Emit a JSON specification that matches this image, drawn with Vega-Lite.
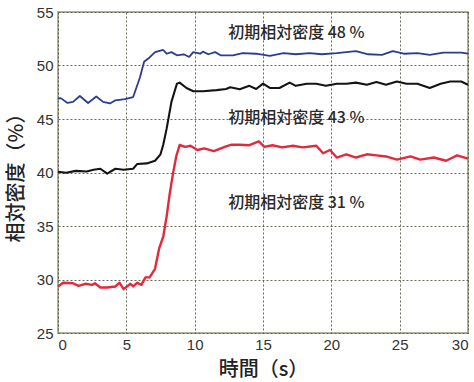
{
  "$schema": "https://vega.github.io/schema/vega-lite/v6.json",
  "width": 410,
  "height": 321,
  "autosize": {"type": "none"},
  "padding": {"left": 58, "top": 12, "right": 6, "bottom": 49},
  "background": "#ffffff",
  "config": {
    "view": {"stroke": "#8f9a70", "strokeWidth": 1.5},
    "axis": {
      "domain": false,
      "ticks": false,
      "grid": true,
      "gridColor": "#5a5a48",
      "gridDash": [2, 2],
      "gridWidth": 1,
      "gridOpacity": 0.9,
      "labelFont": "Liberation Sans Narrow, Liberation Sans, Arial",
      "labelFontSize": 15,
      "labelColor": "#333333",
      "titleFont": "Noto Sans CJK JP",
      "titleFontSize": 20,
      "titleFontWeight": 500,
      "titleColor": "#222222"
    }
  },
  "datasets": {
    "curves": [
      {"t": 0.0, "rho": 46.9, "s": "48"},
      {"t": 0.2, "rho": 46.95, "s": "48"},
      {"t": 0.7, "rho": 46.5, "s": "48"},
      {"t": 1.1, "rho": 46.6, "s": "48"},
      {"t": 1.6, "rho": 47.15, "s": "48"},
      {"t": 2.2, "rho": 46.5, "s": "48"},
      {"t": 2.8, "rho": 47.1, "s": "48"},
      {"t": 3.3, "rho": 46.6, "s": "48"},
      {"t": 3.8, "rho": 46.45, "s": "48"},
      {"t": 4.2, "rho": 46.75, "s": "48"},
      {"t": 4.9, "rho": 46.85, "s": "48"},
      {"t": 5.5, "rho": 47.05, "s": "48"},
      {"t": 6.0, "rho": 48.9, "s": "48"},
      {"t": 6.3, "rho": 50.35, "s": "48"},
      {"t": 6.7, "rho": 50.75, "s": "48"},
      {"t": 7.1, "rho": 51.25, "s": "48"},
      {"t": 7.7, "rho": 51.45, "s": "48"},
      {"t": 7.95, "rho": 51.1, "s": "48"},
      {"t": 8.3, "rho": 51.25, "s": "48"},
      {"t": 8.7, "rho": 50.95, "s": "48"},
      {"t": 9.2, "rho": 51.05, "s": "48"},
      {"t": 9.6, "rho": 50.8, "s": "48"},
      {"t": 9.9, "rho": 51.25, "s": "48"},
      {"t": 10.4, "rho": 51.1, "s": "48"},
      {"t": 10.6, "rho": 51.3, "s": "48"},
      {"t": 11.0, "rho": 51.05, "s": "48"},
      {"t": 11.5, "rho": 51.25, "s": "48"},
      {"t": 11.9, "rho": 50.95, "s": "48"},
      {"t": 12.8, "rho": 50.95, "s": "48"},
      {"t": 13.5, "rho": 51.15, "s": "48"},
      {"t": 14.5, "rho": 51.1, "s": "48"},
      {"t": 15.5, "rho": 50.9, "s": "48"},
      {"t": 16.5, "rho": 51.15, "s": "48"},
      {"t": 17.4, "rho": 51.05, "s": "48"},
      {"t": 18.4, "rho": 51.15, "s": "48"},
      {"t": 19.3, "rho": 51.05, "s": "48"},
      {"t": 20.4, "rho": 51.15, "s": "48"},
      {"t": 21.8, "rho": 51.35, "s": "48"},
      {"t": 22.7, "rho": 51.05, "s": "48"},
      {"t": 23.7, "rho": 51.0, "s": "48"},
      {"t": 24.5, "rho": 51.35, "s": "48"},
      {"t": 25.3, "rho": 51.1, "s": "48"},
      {"t": 26.3, "rho": 51.15, "s": "48"},
      {"t": 27.2, "rho": 51.0, "s": "48"},
      {"t": 28.2, "rho": 51.2, "s": "48"},
      {"t": 29.5, "rho": 51.2, "s": "48"},
      {"t": 30.0, "rho": 51.1, "s": "48"},

      {"t": 0.0, "rho": 40.07, "s": "43"},
      {"t": 0.6, "rho": 39.98, "s": "43"},
      {"t": 1.3, "rho": 40.15, "s": "43"},
      {"t": 2.1, "rho": 40.1, "s": "43"},
      {"t": 2.6, "rho": 40.25, "s": "43"},
      {"t": 3.1, "rho": 40.35, "s": "43"},
      {"t": 3.6, "rho": 39.9, "s": "43"},
      {"t": 4.2, "rho": 40.35, "s": "43"},
      {"t": 4.8, "rho": 40.25, "s": "43"},
      {"t": 5.5, "rho": 40.35, "s": "43"},
      {"t": 5.8, "rho": 40.8, "s": "43"},
      {"t": 6.5, "rho": 40.85, "s": "43"},
      {"t": 7.1, "rho": 41.1, "s": "43"},
      {"t": 7.5, "rho": 41.7, "s": "43"},
      {"t": 7.7, "rho": 42.6, "s": "43"},
      {"t": 7.95, "rho": 44.1, "s": "43"},
      {"t": 8.3, "rho": 46.6, "s": "43"},
      {"t": 8.7, "rho": 48.3, "s": "43"},
      {"t": 8.9, "rho": 48.4, "s": "43"},
      {"t": 9.4, "rho": 47.9, "s": "43"},
      {"t": 9.9, "rho": 47.6, "s": "43"},
      {"t": 10.6, "rho": 47.6, "s": "43"},
      {"t": 11.6, "rho": 47.7, "s": "43"},
      {"t": 12.3, "rho": 47.8, "s": "43"},
      {"t": 12.6, "rho": 47.96, "s": "43"},
      {"t": 13.3, "rho": 47.78, "s": "43"},
      {"t": 14.0, "rho": 48.1, "s": "43"},
      {"t": 14.5, "rho": 47.8, "s": "43"},
      {"t": 15.0, "rho": 48.3, "s": "43"},
      {"t": 15.5, "rho": 47.9, "s": "43"},
      {"t": 16.2, "rho": 47.9, "s": "43"},
      {"t": 16.95, "rho": 48.4, "s": "43"},
      {"t": 17.4, "rho": 48.1, "s": "43"},
      {"t": 18.2, "rho": 48.3, "s": "43"},
      {"t": 18.9, "rho": 48.3, "s": "43"},
      {"t": 19.6, "rho": 48.1, "s": "43"},
      {"t": 20.4, "rho": 48.3, "s": "43"},
      {"t": 21.1, "rho": 48.3, "s": "43"},
      {"t": 21.8, "rho": 48.4, "s": "43"},
      {"t": 22.6, "rho": 48.2, "s": "43"},
      {"t": 23.3, "rho": 48.45, "s": "43"},
      {"t": 24.0, "rho": 48.2, "s": "43"},
      {"t": 24.8, "rho": 48.5, "s": "43"},
      {"t": 25.5, "rho": 48.3, "s": "43"},
      {"t": 26.3, "rho": 48.3, "s": "43"},
      {"t": 27.2, "rho": 47.9, "s": "43"},
      {"t": 28.0, "rho": 48.3, "s": "43"},
      {"t": 28.7, "rho": 48.5, "s": "43"},
      {"t": 29.5, "rho": 48.5, "s": "43"},
      {"t": 30.0, "rho": 48.2, "s": "43"},

      {"t": 0.0, "rho": 29.33, "s": "31"},
      {"t": 0.37, "rho": 29.7, "s": "31"},
      {"t": 1.1, "rho": 29.65, "s": "31"},
      {"t": 1.5, "rho": 29.4, "s": "31"},
      {"t": 2.0, "rho": 29.6, "s": "31"},
      {"t": 2.5, "rho": 29.5, "s": "31"},
      {"t": 2.7, "rho": 29.65, "s": "31"},
      {"t": 3.1, "rho": 29.25, "s": "31"},
      {"t": 3.6, "rho": 29.25, "s": "31"},
      {"t": 4.2, "rho": 29.35, "s": "31"},
      {"t": 4.5, "rho": 29.7, "s": "31"},
      {"t": 4.8, "rho": 29.1, "s": "31"},
      {"t": 5.3, "rho": 29.6, "s": "31"},
      {"t": 5.5, "rho": 29.35, "s": "31"},
      {"t": 5.8, "rho": 29.7, "s": "31"},
      {"t": 6.1, "rho": 29.5, "s": "31"},
      {"t": 6.4, "rho": 30.2, "s": "31"},
      {"t": 6.7, "rho": 30.2, "s": "31"},
      {"t": 7.1, "rho": 31.0, "s": "31"},
      {"t": 7.4, "rho": 32.9, "s": "31"},
      {"t": 7.7, "rho": 34.0, "s": "31"},
      {"t": 7.95, "rho": 35.9, "s": "31"},
      {"t": 8.15, "rho": 37.8, "s": "31"},
      {"t": 8.4, "rho": 39.8, "s": "31"},
      {"t": 8.65, "rho": 41.5, "s": "31"},
      {"t": 8.9, "rho": 42.57, "s": "31"},
      {"t": 9.3, "rho": 42.4, "s": "31"},
      {"t": 9.7, "rho": 42.5, "s": "31"},
      {"t": 10.2, "rho": 42.1, "s": "31"},
      {"t": 10.7, "rho": 42.25, "s": "31"},
      {"t": 11.4, "rho": 42.0, "s": "31"},
      {"t": 12.3, "rho": 42.45, "s": "31"},
      {"t": 12.7, "rho": 42.6, "s": "31"},
      {"t": 13.3, "rho": 42.6, "s": "31"},
      {"t": 14.0, "rho": 42.55, "s": "31"},
      {"t": 14.7, "rho": 42.9, "s": "31"},
      {"t": 15.1, "rho": 42.4, "s": "31"},
      {"t": 15.7, "rho": 42.55, "s": "31"},
      {"t": 16.4, "rho": 42.35, "s": "31"},
      {"t": 17.2, "rho": 42.5, "s": "31"},
      {"t": 17.9, "rho": 42.35, "s": "31"},
      {"t": 18.9, "rho": 42.5, "s": "31"},
      {"t": 19.4, "rho": 41.8, "s": "31"},
      {"t": 19.9, "rho": 42.1, "s": "31"},
      {"t": 20.4, "rho": 41.4, "s": "31"},
      {"t": 21.1, "rho": 41.7, "s": "31"},
      {"t": 21.8, "rho": 41.4, "s": "31"},
      {"t": 22.6, "rho": 41.7, "s": "31"},
      {"t": 23.3, "rho": 41.6, "s": "31"},
      {"t": 24.0, "rho": 41.5, "s": "31"},
      {"t": 24.8, "rho": 41.2, "s": "31"},
      {"t": 25.8, "rho": 41.5, "s": "31"},
      {"t": 26.5, "rho": 41.2, "s": "31"},
      {"t": 27.5, "rho": 41.4, "s": "31"},
      {"t": 28.4, "rho": 41.1, "s": "31"},
      {"t": 29.2, "rho": 41.6, "s": "31"},
      {"t": 30.0, "rho": 41.3, "s": "31"}
    ],
    "labels": [
      {"t": 12.45, "rho": 53.05, "label": "初期相対密度 48 %"},
      {"t": 12.45, "rho": 45.1, "label": "初期相対密度 43 %"},
      {"t": 12.45, "rho": 37.15, "label": "初期相対密度 31 %"}
    ]
  },
  "layer": [
    {
      "data": {"name": "curves"},
      "mark": {"type": "line", "strokeJoin": "round", "interpolate": "linear"},
      "encoding": {
        "x": {
          "field": "t",
          "type": "quantitative",
          "scale": {"domain": [0, 30], "nice": false},
          "axis": {"values": [0, 5, 10, 15, 20, 25, 30], "title": "時間（s）", "labelPadding": 4, "titlePadding": 7}
        },
        "y": {
          "field": "rho",
          "type": "quantitative",
          "scale": {"domain": [25, 55], "nice": false, "zero": false},
          "axis": {"values": [25, 30, 35, 40, 45, 50, 55], "title": "相対密度（%）", "labelPadding": 5, "titlePadding": 10}
        },
        "color": {
          "field": "s",
          "type": "nominal",
          "scale": {"domain": ["48", "43", "31"], "range": ["#2b3d8c", "#141414", "#e5283c"]},
          "legend": null
        },
        "strokeWidth": {
          "field": "s",
          "type": "nominal",
          "scale": {"domain": ["48", "43", "31"], "range": [1.8, 2.4, 2]},
          "legend": null
        },
        "order": {"field": "t", "type": "quantitative"}
      }
    },
    {
      "data": {"name": "labels"},
      "mark": {"type": "text", "align": "left", "baseline": "middle", "font": "Noto Sans CJK JP", "fontSize": 16, "fontWeight": 500, "color": "#2a2a2a"},
      "encoding": {
        "x": {"field": "t", "type": "quantitative"},
        "y": {"field": "rho", "type": "quantitative"},
        "text": {"field": "label"}
      }
    }
  ]
}
